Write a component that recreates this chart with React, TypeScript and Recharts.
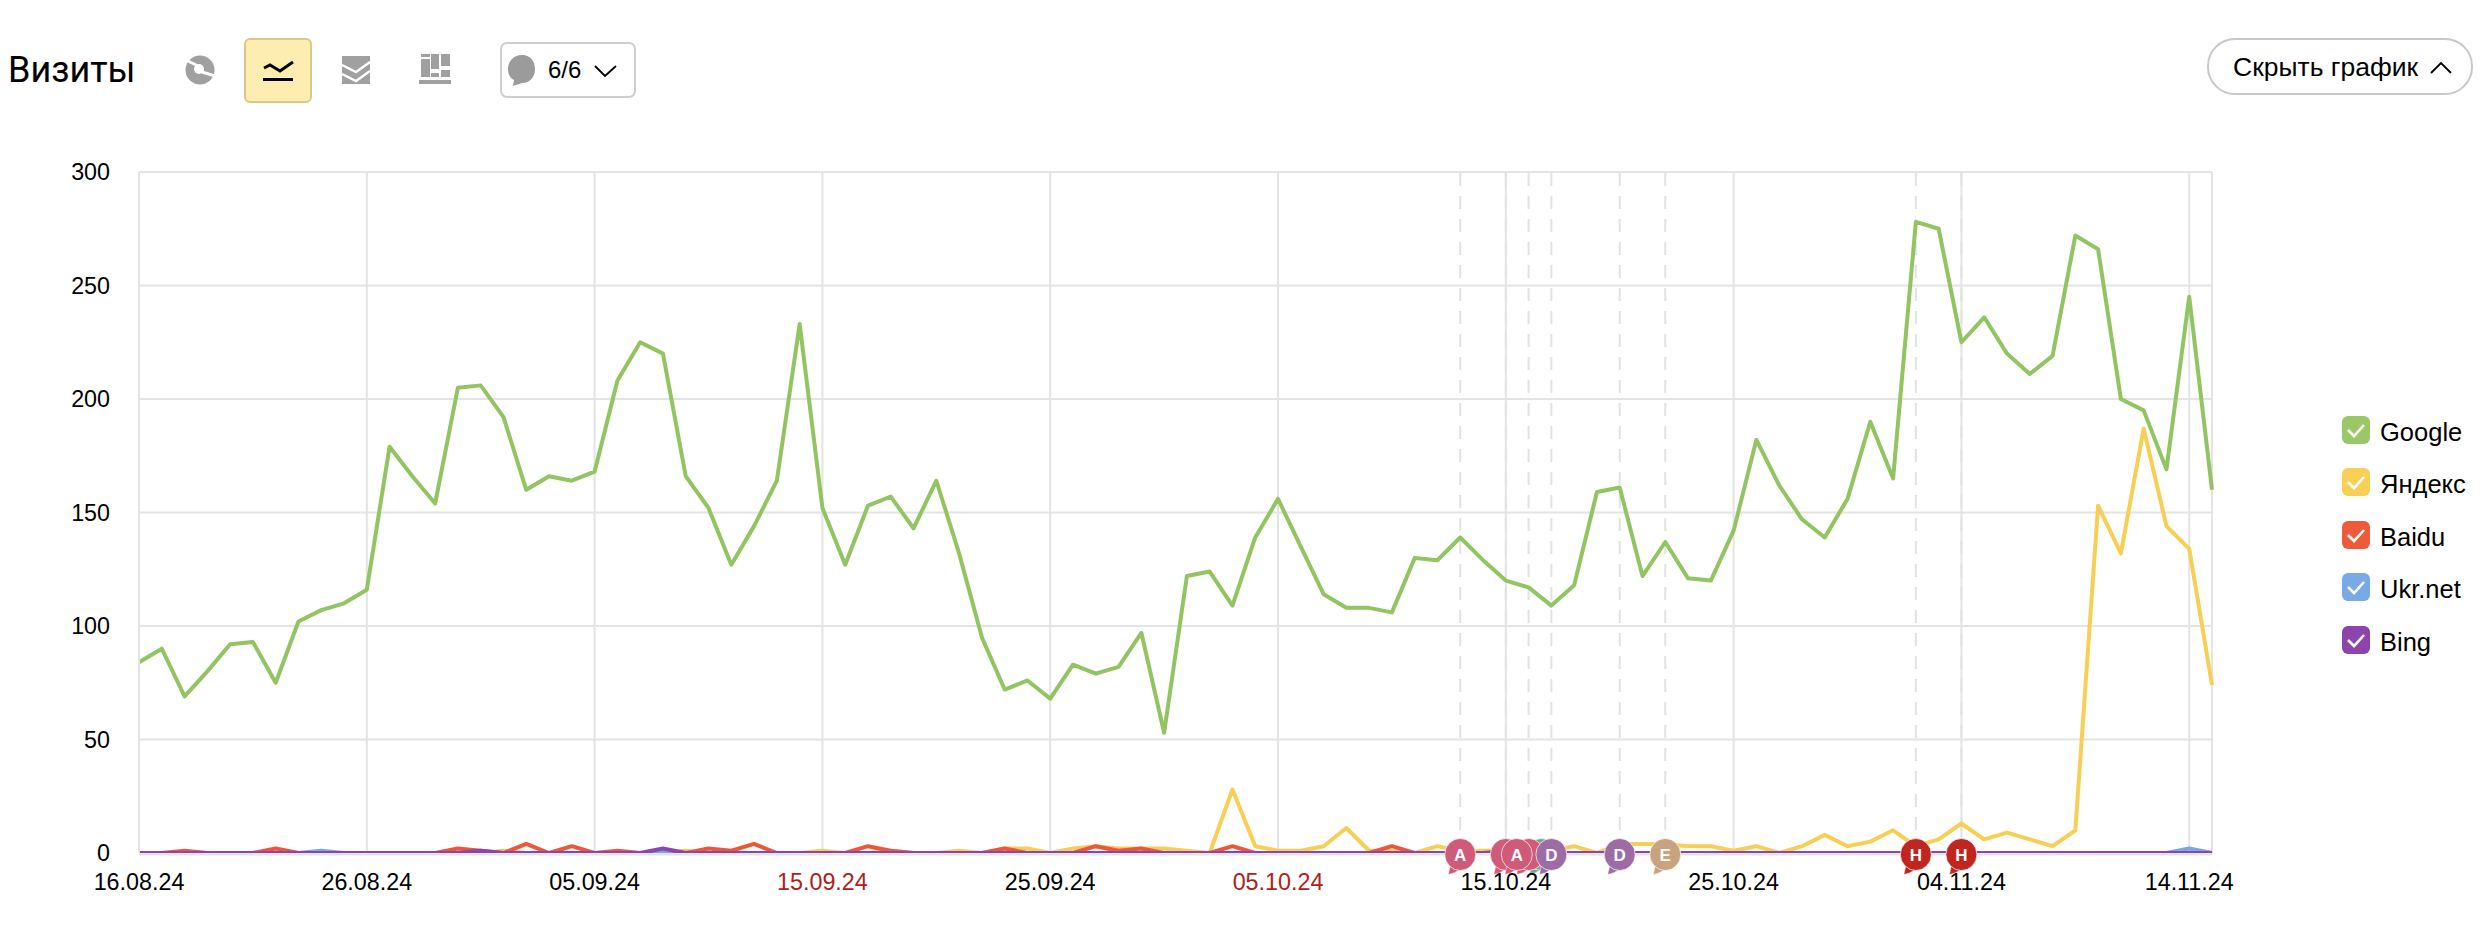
import React from "react";
import { LineChart, Line, XAxis, YAxis, CartesianGrid, ReferenceLine, ReferenceDot } from "recharts";

const dates = [
  "16.08.24","17.08.24","18.08.24","19.08.24","20.08.24","21.08.24","22.08.24","23.08.24","24.08.24","25.08.24","26.08.24","27.08.24","28.08.24","29.08.24","30.08.24","31.08.24",
  "01.09.24","02.09.24","03.09.24","04.09.24","05.09.24","06.09.24","07.09.24","08.09.24","09.09.24","10.09.24","11.09.24","12.09.24","13.09.24","14.09.24","15.09.24","16.09.24","17.09.24","18.09.24","19.09.24","20.09.24","21.09.24","22.09.24","23.09.24","24.09.24","25.09.24","26.09.24","27.09.24","28.09.24","29.09.24","30.09.24",
  "01.10.24","02.10.24","03.10.24","04.10.24","05.10.24","06.10.24","07.10.24","08.10.24","09.10.24","10.10.24","11.10.24","12.10.24","13.10.24","14.10.24","15.10.24","16.10.24","17.10.24","18.10.24","19.10.24","20.10.24","21.10.24","22.10.24","23.10.24","24.10.24","25.10.24","26.10.24","27.10.24","28.10.24","29.10.24","30.10.24","31.10.24",
  "01.11.24","02.11.24","03.11.24","04.11.24","05.11.24","06.11.24","07.11.24","08.11.24","09.11.24","10.11.24","11.11.24","12.11.24","13.11.24","14.11.24","15.11.24",
];
const google = [84,90,69,80,92,93,75,102,107,110,116,179,166,154,205,206,192,160,166,164,168,208,225,220,166,152,127,144,164,233,152,127,153,157,143,164,132,95,72,76,68,83,79,82,97,53,122,124,109,139,156,135,114,108,108,106,130,129,139,129,120,117,109,118,159,161,122,137,121,120,142,182,162,147,139,156,190,165,278,275,225,236,220,211,219,272,266,200,195,169,245,160];
const yandex = [0,0,0,0,0,0,0,0,0,0,0,0,0,0,0,0,1,0,0,0,0,0,0,0,1,0,0,0,0,0,1,0,0,1,0,0,1,0,2,2,0,2,3,2,2,2,1,0,28,3,1,1,3,11,1,1,0,3,1,1,1,1,1,3,0,4,4,4,3,3,1,3,0,3,8,3,5,10,3,6,13,6,9,6,3,10,153,132,187,144,134,74];
const baidu = [0,0,1,0,0,0,2,0,0,0,0,0,0,0,2,1,0,4,0,3,0,1,0,0,0,2,1,4,0,0,0,0,3,1,0,0,0,0,2,0,0,0,3,1,2,0,0,0,3,0,0,0,0,0,0,3,0,0,0,0,1,0,0,0,0,0,0,0,0,0,0,0,0,0,0,0,0,0,0,0,0,0,0,0,0,0,0,0,0,0,0,0];
const ukrnet = [0,0,0,0,0,0,0,0,1,0,0,0,0,0,0,0,0,0,0,0,0,0,0,1,0,0,0,0,0,0,0,0,0,0,0,0,0,0,0,0,0,0,0,0,0,0,0,0,0,0,0,0,0,0,0,0,0,0,0,0,0,0,0,0,0,0,0,0,0,0,0,0,0,0,0,0,0,0,0,0,0,0,0,0,0,0,0,0,0,0,2,0];
const bing = [0,0,0,0,0,0,0,0,0,0,0,0,0,0,0,1,0,0,0,0,0,0,0,2,0,0,0,0,0,0,0,0,0,0,0,0,0,0,0,0,0,0,0,0,0,0,0,0,0,0,0,0,0,0,0,0,0,0,0,0,0,0,0,0,0,0,0,0,0,0,0,0,0,0,0,0,0,0,0,0,0,0,0,0,0,0,0,0,0,0,0,0];

const seriesNames = ["Google", "Яндекс", "Baidu", "Ukr.net", "Bing"];
const seriesKeys = ["google", "yandex", "baidu", "ukrnet", "bing"];
const seriesValues = [google, yandex, baidu, ukrnet, bing];
const lineColors = ["#93c462", "#f8cf55", "#ee5638", "#75a9e5", "#8e44ad"];
const legendColors = ["#9ac867", "#f7d055", "#ee5a3a", "#78aae6", "#8e44ad"];

const xTicks = ["16.08.24","26.08.24","05.09.24","15.09.24","25.09.24","05.10.24","15.10.24","25.10.24","04.11.24","14.11.24"];
const weekendTicks = ["15.09.24","05.10.24"];
const yTicks = [0, 50, 100, 150, 200, 250, 300];

const annotationDates = ["13.10.24","15.10.24","16.10.24","17.10.24","20.10.24","22.10.24","02.11.24","04.11.24"];
const bubbleDates = ["17.10.24","16.10.24","15.10.24","15.10.24","17.10.24","13.10.24","20.10.24","22.10.24","02.11.24","04.11.24"];
const bubbleLetters = ["", "", "", "A", "D", "A", "D", "E", "H", "H"];
const bubbleColors = ["#6fa98a","#d05a78","#cf5a7a","#cf5a7a","#9e6ca4","#cf5a7a","#9e6ca4","#c9a27e","#bf2620","#bf2620"];
const bubbleShift = [-10, 0, 0, 11, 0, 0, 0, 0, 0, 0];

const rows = dates.map((date, i) => {
  const row: Record<string, string | number> = { date };
  seriesKeys.forEach((k, s) => { row[k] = seriesValues[s][i]; });
  return row;
});

const FONT = "'Liberation Sans', Arial, sans-serif";
const GRID = "#e4e4e4";

const XTick = (p: any) => {
  const v = p.payload.value;
  return (
    <text x={p.x} y={890} textAnchor="middle" fontFamily={FONT} fontSize={23.3}
      fill={weekendTicks.includes(v) ? "#b0211a" : "#000"}>{v}</text>
  );
};
const YTick = (p: any) => (
  <text x={110} y={p.y + 8} textAnchor="end" fontFamily={FONT} fontSize={23.3} fill="#000">{p.payload.value}</text>
);

const Bubble = (letter: string, color: string, shift: number) => (p: any) => {
  const cx = p.cx + shift;
  const cy = p.cy + 1.5;
  return (
    <g>
      <path
        d={`M ${cx - 10} ${cy + 11} L ${cx - 12} ${cy + 20} Q ${cx - 5} ${cy + 19} ${cx - 1} ${cy + 15} Z`}
        fill={color} stroke="#fff" strokeWidth={0.5}
      />
      <ellipse cx={cx} cy={cy} rx={15.5} ry={16} fill={color} stroke="#fff" strokeOpacity={0.7} strokeWidth={1} />
      <text x={cx} y={cy + 6.5} textAnchor="middle" fontFamily={FONT} fontWeight={700} fontSize={17} fill="#fff">{letter}</text>
    </g>
  );
};

const Abs = ({ l, t, w, h, children, style }: any) => (
  <div style={{ position: "absolute", left: l, top: t, width: w, height: h, boxSizing: "border-box", ...style }}>{children}</div>
);

const Toolbar = () => (
  <>
    <Abs l={8} t={45} w={160} h={50} style={{ fontFamily: "Roboto, sans-serif", fontSize: 36, lineHeight: "50px", color: "#000" }}>Визиты</Abs>
    <svg style={{ position: "absolute", left: 0, top: 0 }} width={700} height={110}>
      {/* pie */}
      <circle cx={200} cy={70} r={14.5} fill="#a0a0a0" />
      <circle cx={199} cy={69} r={5} fill="#fff" />
      <path d="M186 60 L198 66 M202 72 L215 76" fill="none" stroke="#fff" strokeWidth={3} />
      {/* active line button */}
      <rect x={245} y={39} width={66} height={63} rx={5} fill="#fdedb0" stroke="#d8c98a" strokeWidth={2} />
      <path d="M264 68 L270 65 L280 71 L293 62" fill="none" stroke="#000" strokeWidth={3} />
      <rect x={263} y={78} width={30} height={3} fill="#000" />
      {/* stacked */}
      <rect x={342} y={56} width={28} height={28} fill="#a0a0a0" />
      <path d="M342 65 L356 72 L370 62 M342 74 L356 81 L370 71" fill="none" stroke="#fff" strokeWidth={2.5} />
      {/* bars */}
      <path d="M421 54 h9 v3 h-9 Z M421 59 h9 v18 h-9 Z M431 54 h8 v15 h-8 Z M431 73 h8 v4 h-8 Z M441 54 h9 v12 h-9 Z M441 70 h9 v7 h-9 Z M419 80 h32 v4 h-32 Z" fill="#a0a0a0" />
      {/* comment dropdown */}
      <rect x={501} y={43} width={134} height={54} rx={6} fill="#fff" stroke="#cfcfcf" strokeWidth={2} />
      <path d="M522 55 C531 55 535 62 535 69 C535 77 530 83 522 83 L513 86 L514 80 C510 78 508 74 508 69 C508 62 513 55 522 55 Z" fill="#9b9b9b" />
      <path d="M595 66 L605 76 L616 66" fill="none" stroke="#000" strokeWidth={1.8} />
    </svg>
    <Abs l={548} t={50} w={50} h={40} style={{ fontFamily: FONT, fontSize: 24, lineHeight: "40px", color: "#000" }}>6/6</Abs>
    <svg style={{ position: "absolute", left: 2200, top: 30 }} width={280} height={70}>
      <rect x={8} y={9} width={264} height={55} rx={27} fill="#fff" stroke="#c8c8c8" strokeWidth={2} />
      <path d="M231 43 L241 33 L251 43" fill="none" stroke="#000" strokeWidth={1.8} />
    </svg>
    <Abs l={2233} t={47} w={200} h={40} style={{ fontFamily: FONT, fontSize: 26.5, lineHeight: "40px", color: "#000", whiteSpace: "nowrap" }}>Скрыть график</Abs>
  </>
);

const LegendBox = () => (
  <>
    {seriesNames.map((name, i) => (
      <React.Fragment key={name}>
        <svg style={{ position: "absolute", left: 2342, top: 416 + i * 52.4 }} width={29} height={28}>
          <rect width={28} height={28} rx={6} fill={legendColors[i]} />
          <path d="M6 14 L12 20 L22 9" fill="none" stroke="#fff" strokeWidth={2.6} />
        </svg>
        <Abs l={2380} t={412 + i * 52.4} w={100} h={40} style={{ fontFamily: FONT, fontSize: 25.5, lineHeight: "40px", color: "#000" }}>{name}</Abs>
      </React.Fragment>
    ))}
  </>
);

export default function App() {
  return (
    <div style={{ position: "absolute", left: 0, top: 0, width: 2488, height: 930, background: "#fff", overflow: "hidden" }}>
      <LineChart width={2488} height={930} data={rows} margin={{ top: 172, right: 276, bottom: 0, left: 0 }} style={{ position: "absolute", left: 0, top: 0 }}>
        <CartesianGrid stroke={GRID} strokeWidth={2} />
        <XAxis dataKey="date" ticks={xTicks} interval={0} height={77} tick={<XTick />} tickLine={false}
          axisLine={{ stroke: GRID, strokeWidth: 2.5, transform: "translate(0,1.25)" }} />
        <YAxis width={139} domain={[0, 300]} ticks={yTicks} tick={<YTick />} tickLine={false}
          axisLine={{ stroke: GRID, strokeWidth: 2 }} />
        <ReferenceLine x={dates[dates.length - 1]} stroke={GRID} strokeWidth={2} />
        {annotationDates.map((d) => (
          <ReferenceLine key={d} x={d} stroke="#e2e2e2" strokeWidth={2} strokeDasharray="13 10" />
        ))}
        {seriesKeys.map((k, i) => (
          <Line key={k} dataKey={k} name={seriesNames[i]} stroke={lineColors[i]} strokeWidth={4} dot={false}
            strokeLinejoin="round" isAnimationActive={false} />
        ))}
        {bubbleDates.map((d, i) => (
          <ReferenceDot key={i} x={d} y={0} ifOverflow="visible" shape={Bubble(bubbleLetters[i], bubbleColors[i], bubbleShift[i])} />
        ))}
      </LineChart>
      <Toolbar />
      <LegendBox />
    </div>
  );
}
